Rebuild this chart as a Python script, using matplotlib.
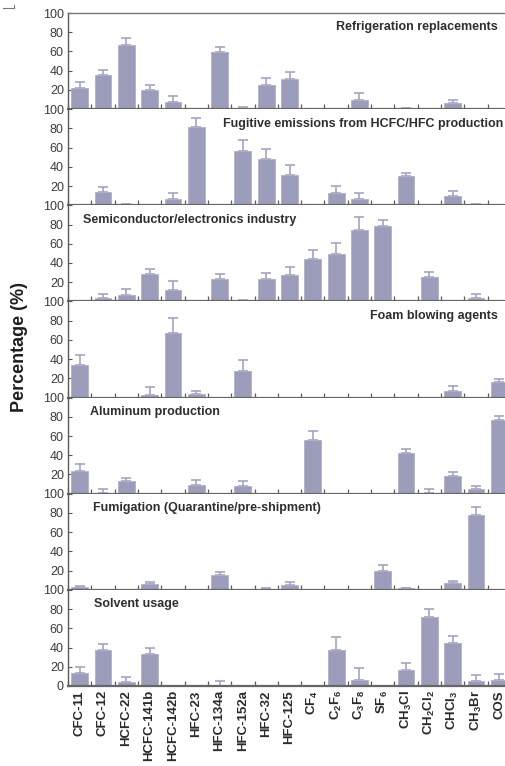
import matplotlib
matplotlib.use("Agg")
import matplotlib.pyplot as plt
import numpy as np
from matplotlib.lines import Line2D

plt.rcParams['font.family'] = ['Liberation Sans', 'DejaVu Sans']
plt.rcParams['mathtext.fontset'] = 'custom'
plt.rcParams['mathtext.rm'] = 'Liberation Sans:bold'
plt.rcParams['mathtext.bf'] = 'Liberation Sans:bold'
plt.rcParams['mathtext.it'] = 'Liberation Sans:bold'
plt.rcParams['mathtext.default'] = 'bf'

categories = ["CFC-11", "CFC-12", "HCFC-22", "HCFC-141b", "HCFC-142b", "HFC-23",
              "HFC-134a", "HFC-152a", "HFC-32", "HFC-125", r"CF$_4$", r"C$_2$F$_6$",
              r"C$_3$F$_8$", r"SF$_6$", r"CH$_3$Cl", r"CH$_2$Cl$_2$", r"CHCl$_3$",
              r"CH$_3$Br", "COS"]

panel_titles = ["Refrigeration replacements",
                "Fugitive emissions from HCFC/HFC production",
                "Semiconductor/electronics industry",
                "Foam blowing agents",
                "Aluminum production",
                "Fumigation (Quarantine/pre-shipment)",
                "Solvent usage"]

# values (%) per category, one list per panel
refrigeration = [22, 35, 67, 20, 7, 0, 59, 0.5, 25, 31, 0, 0, 10, 0, 0.5, 0, 6, 0, 0]
refrigeration_err = [6, 6, 7, 5, 7, 0, 6, 2, 7, 8, 0, 0, 7, 0, 0.5, 0, 3, 0, 0]

fugitive = [0, 14, 0.5, 0, 7, 81, 0, 56, 48, 32, 0, 13, 7, 0, 30, 0, 10, 0.5, 0]
fugitive_err = [0, 5, 0.5, 0, 6, 10, 0, 12, 11, 10, 0, 7, 6, 0, 3.5, 0, 5, 0.5, 0]

semiconductor = [0, 4, 7, 29, 12, 0.5, 23, 0.5, 23, 28, 44, 49, 74, 78, 0.5, 25, 0, 4, 0]
semiconductor_err = [0, 4, 6, 5, 9, 0, 6, 0.5, 7, 8, 9, 12, 14, 7, 0, 6, 0, 4, 0]

foam = [34, 0, 0.5, 3, 67, 3.5, 0, 28, 0, 0, 0, 0, 0, 0, 0, 0, 7, 0, 16]
foam_err = [10, 0, 0, 7.5, 16, 3.5, 0, 11, 0, 0, 0, 0, 0, 0, 0, 0, 5, 0, 3]

aluminum = [24, 0.5, 13, 0, 0, 9, 0, 8, 0, 0, 56, 0, 0, 0, 42, 0.5, 18, 4.5, 77]
aluminum_err = [7, 4, 3, 0, 0, 5, 0, 5, 0, 0, 9, 0, 0, 0, 4, 4, 5, 3.5, 4]

fumigation = [3, 0, 0, 6, 0, 0, 15, 0, 0.5, 5, 0, 0, 0, 20, 1.5, 0, 7, 78, 0]
fumigation_err = [1.5, 0, 0, 2, 0, 0, 4, 0, 1, 3, 0, 0, 0, 6, 0.5, 0, 2, 8, 0]

solvent = [14, 37, 4.5, 33, 0, 0, 0.3, 0, 0, 0, 0, 37, 6, 0, 17, 72, 45, 5.5, 6.5]
solvent_err = [6, 7, 4.5, 7, 0, 0, 5, 0, 0, 0, 0, 14, 13, 0, 7, 8, 6.5, 6, 6]

panels = [(refrigeration, refrigeration_err), (fugitive, fugitive_err),
          (semiconductor, semiconductor_err), (foam, foam_err),
          (aluminum, aluminum_err), (fumigation, fumigation_err),
          (solvent, solvent_err)]

# title placement (x in axes fraction, ha)
title_pos = [(0.97, 'right'), (0.982, 'right'), (0.034, 'left'), (0.97, 'right'),
             (0.05, 'left'), (0.056, 'left'), (0.058, 'left')]

W, H = 506, 766
fig = plt.figure(figsize=(W / 100, H / 100), dpi=100)

bar_color = '#9c9cbb'
edge_color = '#b0b0c8'
err_color = '#a4a4c2'
spine_color = '#5a5a5a'

left_px, right_px = 68, 511
top_px, bottom_px = 13, 686
n = len(panels)
ph = (bottom_px - top_px) / n
x = np.arange(len(categories))

for i, (vals, errs) in enumerate(panels):
    y0 = bottom_px - (n - i) * ph + 0  # top of panel in px
    ax = fig.add_axes([left_px / W, 1 - (top_px + (i + 1) * ph) / H,
                       (right_px - left_px) / W, ph / H])
    vals = np.array(vals, dtype=float)
    errs = np.array(errs, dtype=float)
    ax.bar(x, vals, width=0.72, color=bar_color, edgecolor=edge_color,
           linewidth=0.6, zorder=2)
    m = errs > 0
    ax.errorbar(x[m], vals[m], yerr=[np.zeros(m.sum()), errs[m]], fmt='none',
                ecolor=err_color, elinewidth=1.2, capsize=3.5, capthick=1.2,
                zorder=1)
    ax.set_xlim(-0.5, len(categories) - 0.5)
    ax.set_ylim(0, 100)
    ax.set_yticks([0, 20, 40, 60, 80, 100])
    if i < n - 1:
        ax.set_yticklabels(['', '20', '40', '60', '80', '100'])
    ax.tick_params(axis='y', direction='in', length=3, width=0.8,
                   colors=spine_color, labelsize=9, labelcolor='#3c3c3c', pad=3)
    ax.set_xticks(x)
    ax.set_xticks(np.arange(len(categories) + 1) - 0.5, minor=True)
    ax.tick_params(axis='x', which='major', length=0)
    ax.tick_params(axis='x', which='minor', direction='in', length=3.5,
                   width=0.9, colors=spine_color)
    if i < n - 1:
        ax.set_xticklabels([])
    else:
        ax.set_xticklabels(categories, rotation=90, fontsize=9.5,
                           fontweight='bold', color='#2a2a2a')
        ax.tick_params(axis='x', which='major', pad=3)
    for s in ['top', 'right']:
        ax.spines[s].set_visible(False)
    if i == 0:
        ax.spines['top'].set_visible(True)
        ax.spines['top'].set_color('#777777')
        ax.spines['top'].set_linewidth(1.0)
    ax.spines['left'].set_color(spine_color)
    ax.spines['left'].set_linewidth(1.0)
    ax.spines['bottom'].set_color('#666666')
    ax.spines['bottom'].set_linewidth(1.6)
    tx, ha = title_pos[i]
    ax.text(tx, 0.85, panel_titles[i], transform=ax.transAxes, ha=ha,
            va='center', fontsize=9, fontweight='bold', color='#2e2e2e')

fig.text(20 / W, 1 - 347 / H, 'Percentage (%)', rotation=90, ha='center',
         va='center', fontsize=13, fontweight='bold', color='#1e1e1e')

# small stray mark at top-left of the original
fig.add_artist(Line2D([3 / W, 14 / W], [1 - 8 / H, 1 - 8 / H], color='#777777', lw=0.8))
fig.add_artist(Line2D([14 / W, 14 / W], [1 - 8 / H, 1 - 5 / H], color='#777777', lw=0.8))

fig.savefig('out.png', dpi=100, facecolor='white')
